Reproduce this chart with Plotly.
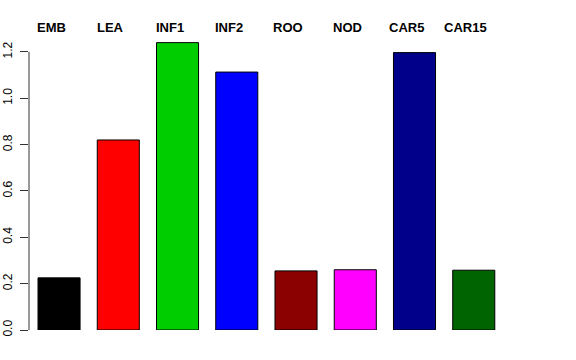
import plotly.graph_objects as go

categories = ["EMB", "LEA", "INF1", "INF2", "ROO", "NOD", "CAR5", "CAR15"]
values = [0.225, 0.82, 1.24, 1.113, 0.255, 0.26, 1.197, 0.258]
colors = ["#000000", "#FF0000", "#00CD00", "#0000FF", "#8B0000", "#FF00FF", "#00008B", "#006400"]
ytick_vals = [0.0, 0.2, 0.4, 0.6, 0.8, 1.0, 1.2]
ytick_text = ["0.0", "0.2", "0.4", "0.6", "0.8", "1.0", "1.2"]

xpos = list(range(len(categories)))

fig = go.Figure()
fig.add_trace(go.Bar(
    x=xpos, y=values, width=0.71,
    marker=dict(color=colors, line=dict(color="black", width=1)),
    hoverinfo="skip",
))

for xi, name in zip(xpos, categories):
    fig.add_annotation(x=xi, y=1.035, xref="x", yref="paper", text="<b>%s</b>" % name,
                       showarrow=False, xshift=-8, yanchor="middle", xanchor="center",
                       font=dict(family="Liberation Sans, Arial, sans-serif", size=13, color="black"))

# R-style axis line spanning only the tick range
fig.add_shape(type="line", xref="paper", yref="y", x0=0, x1=0, y0=0, y1=1.2,
              line=dict(color="#333333", width=1))

fig.update_layout(
    width=576, height=360,
    margin=dict(l=29, r=43, t=38, b=30, autoexpand=False),
    paper_bgcolor="white", plot_bgcolor="white",
    showlegend=False,
    font=dict(family="Liberation Sans, Arial, sans-serif", size=12, color="black"),
    xaxis=dict(range=[-0.507, 8.0], showticklabels=False, showgrid=False, zeroline=False,
               showline=False, ticks="", automargin=False),
    yaxis=dict(range=[0, 1.26], tickvals=ytick_vals, ticktext=ytick_text, tickangle=-90,
               ticks="outside", ticklen=8, tickcolor="#333333", showgrid=False,
               zeroline=False, showline=False, automargin=False, ticklabelstandoff=3,
               tickfont=dict(size=12, color="black")),
)

fig.write_html("out.html", config={"displayModeBar": False},
               post_script="document.body.style.margin='0';")
